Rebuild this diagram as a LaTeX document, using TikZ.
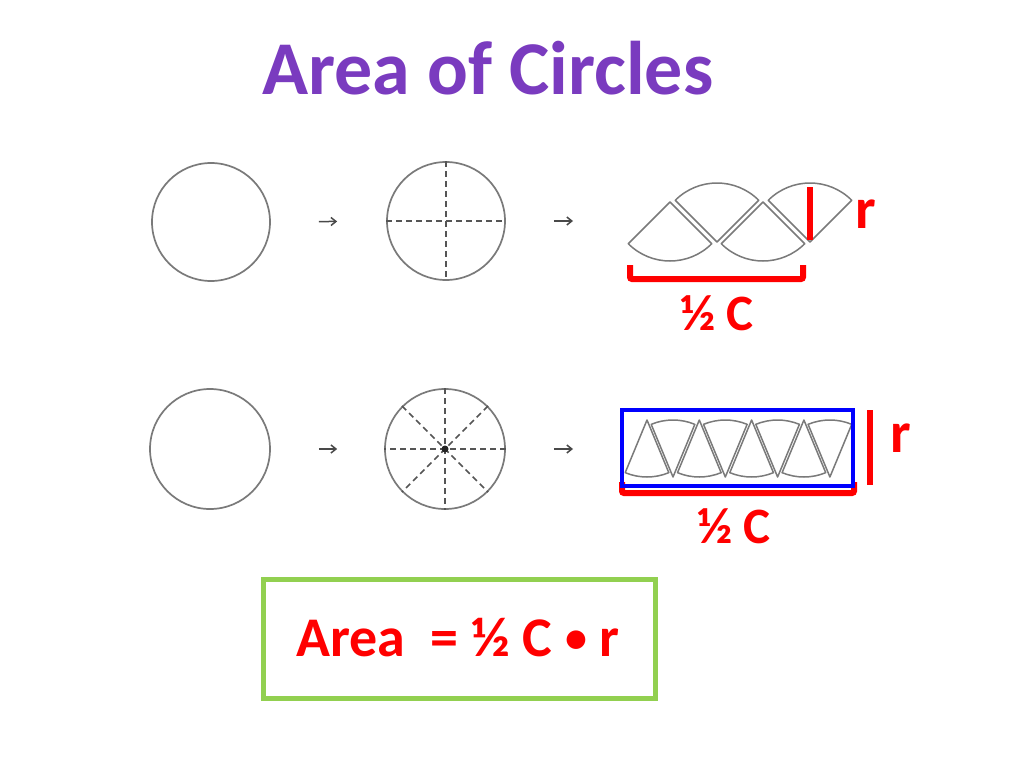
\documentclass[tikz,border=0pt]{standalone}
\usepackage{fontspec}
\setmainfont{Carlito}
\usetikzlibrary{arrows.meta}
\definecolor{AOCpurple}{HTML}{7A3BBF}
\definecolor{AOCgreen}{HTML}{92D050}
\definecolor{AOCred}{HTML}{FF0000}
\definecolor{AOCblue}{HTML}{0000FF}
\definecolor{AOCgray}{HTML}{7A7A7A}
% apex x, apex y, radius, half angle
\newcommand{\pieceup}[4]{%
  \draw[piece] (#1,#2) -- ++(90-#4:#3) arc (90-#4:90+#4:#3) -- cycle;}
\newcommand{\piecedown}[4]{%
  \draw[piece] (#1,#2) -- ++(270-#4:#3) arc (270-#4:270+#4:#3) -- cycle;}
\newcommand{\smalldot}{\raisebox{4pt}{\fontsize{44}{44}\selectfont •}}
\tikzset{
  ring/.style={circle, draw=AOCgray, line width=1.7pt, inner sep=0pt},
  cut/.style={AOCgray!70!black, line width=1.5pt, dash pattern=on 6pt off 4pt},
  piece/.style={AOCgray, line width=1.5pt, line join=round},
  flow/.style={-{Straight Barb[length=5pt,width=8pt]}, AOCgray!60!black, line width=1.5pt},
  redbar/.style={AOCred, line width=6pt},
  redtext/.style={text=AOCred, font=\bfseries, anchor=base, inner sep=0pt}
}

\begin{document}
\begin{tikzpicture}[x=1pt, y=-1pt]
  \useasboundingbox[fill=white] (0,0) rectangle (1024,768);

  % title
  \node[text=AOCpurple, font=\fontsize{76}{80}\bfseries\selectfont, anchor=base, inner sep=0pt]
    (title) at (488,94) {Area of Circles};

  % draw the circles
  \node[ring, minimum size=118pt] (c1) at (211,222) {};
  \node[ring, minimum size=118pt] (c2) at (446,221) {};
  \node[ring, minimum size=120pt] (c3) at (210,449) {};
  \node[ring, minimum size=120pt] (c4) at (445,449) {};
  \draw[cut] (c2.north) -- (c2.south);
  \draw[cut] (c2.west) -- (c2.east);
  \foreach \a/\b in {0/180,45/225,90/270,135/315}
    \draw[cut] (c4.\a) -- (c4.\b);
  \fill[AOCgray!30!black] (c4) circle (3.5);

  % arrows
  \coordinate (strip1) at (627,221);
  \coordinate (strip2) at (622,449);
  \draw[flow, shorten <=48pt, shorten >=49pt] (c1) -- (c2);
  \draw[flow, shorten <=48pt, shorten >=54pt] (c2) -- (strip1);
  \draw[flow, shorten <=48pt, shorten >=47pt] (c3) -- (c4);
  \draw[flow, shorten <=48pt, shorten >=49pt] (c4) -- (strip2);

  % four pieces
  \pieceup{670}{202}{59}{45}
  \piecedown{717}{242}{59}{45}
  \pieceup{763}{202}{59}{45}
  \piecedown{810}{242}{59}{45}

  % eight pieces
  \foreach \k in {0,...,3}
  {
    \pieceup{647+52.3*\k}{420}{57}{22.5}
    \piecedown{673+52.3*\k}{477}{57}{22.5}
  }

  % first row labels
  \draw[redbar] (810,187) -- (810,240);
  \node[redtext, font=\fontsize{58}{60}\bfseries\selectfont] (r1) at (866,228) {r};
  \draw[redbar, rounded corners=2pt] (630,265) -- (630,279) -- (803,279) -- (803,265);
  \node[redtext, font=\fontsize{51}{54}\bfseries\selectfont] (half1) at (717,330) {½ C};

  % second row labels
  \draw[redbar, rounded corners=2pt] (622,482) -- (622,493) -- (854,493) -- (854,482);
  \draw[AOCblue, line width=4pt] (622,410) rectangle (853,486);
  \draw[redbar] (870,410) -- (870,485);
  \node[redtext, font=\fontsize{58}{60}\bfseries\selectfont] (r2) at (901,452) {r};
  \node[redtext, font=\fontsize{51}{54}\bfseries\selectfont] (half2) at (734,543) {½ C};

  % formula
  \node[draw=AOCgreen, line width=5pt, minimum width=392pt, minimum height=119pt]
    (box) at (459,638.5) {};
  \node[redtext, font=\fontsize{56}{60}\bfseries\selectfont] (area) at (458,656)
    {Area\ \ = ½ C \smalldot{} r};

\end{tikzpicture}
\end{document}
